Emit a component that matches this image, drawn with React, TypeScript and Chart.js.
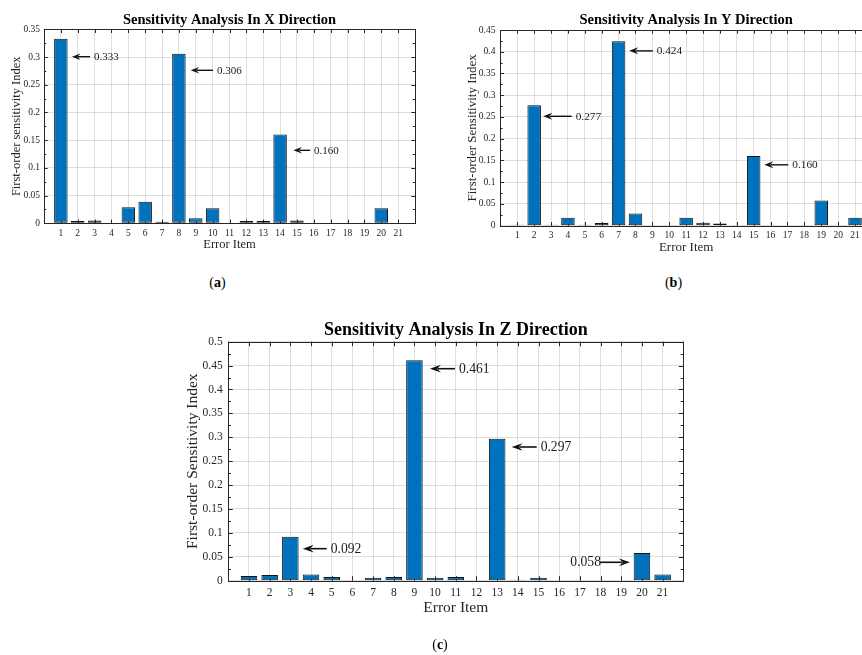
import React, { useEffect, useRef } from 'react';
import { Chart, registerables } from 'chart.js';

Chart.register(...registerables);

// ---------- data ----------
const errorItems = [1, 2, 3, 4, 5, 6, 7, 8, 9, 10, 11, 12, 13, 14, 15, 16, 17, 18, 19, 20, 21];
const sensX = [0.333, 0.004, 0.005, 0, 0.029, 0.039, 0.003, 0.306, 0.009, 0.027, 0, 0.004, 0.004, 0.16, 0.005, 0, 0, 0, 0.0015, 0.027, 0];
const sensY = [0.002, 0.277, 0.002, 0.018, 0.002, 0.006, 0.424, 0.028, 0, 0, 0.018, 0.007, 0.005, 0, 0.16, 0, 0, 0, 0.058, 0, 0.018];
const sensZ = [0.01, 0.012, 0.092, 0.013, 0.008, 0, 0.006, 0.008, 0.461, 0.006, 0.008, 0, 0.297, 0.002, 0.006, 0, 0, 0, 0, 0.058, 0.013];

const yMaxX = 0.35;
const yMaxY = 0.45;
const yMaxZ = 0.5;
const yStep = 0.05;
const xMin = 0;
const xMax = 22;

// annotations (data coordinates): arrow head x/y, arrow tail x, label
const annXHead = [1.66, 8.7, 14.79];
const annXHeadY = [0.3006, 0.276, 0.1317];
const annXTail = [2.73, 10.02, 15.78];
const annXText = ['0.333', '0.306', '0.160'];

const annYHead = [2.54, 7.63, 15.63];
const annYHeadY = [0.2516, 0.402, 0.14];
const annYTail = [4.22, 9.02, 17.05];
const annYText = ['0.277', '0.424', '0.160'];

const annZHead = [9.75, 13.7, 3.6, 19.42];
const annZHeadY = [0.4435, 0.2797, 0.067, 0.0385];
const annZTail = [10.96, 14.91, 4.76, 17.97];
const annZText = ['0.461', '0.297', '0.092', '0.058'];

const titles = [
  'Sensitivity Analysis In X Direction',
  'Sensitivity Analysis In Y Direction',
  'Sensitivity Analysis In Z Direction',
];
const yTitles = ['First-order sensitivity Index', 'First-order Sensitivity Index', 'First-order Sensitivity Index'];
const xTitle = 'Error Item';
const captions = ['a', 'b', 'c'];

// ---------- styles ----------
const FONT = "'Liberation Serif', 'Times New Roman', serif";
const BAR_FILL = '#0072BD';
const AXIS = '#262626';
const GRID = 'rgba(38,38,38,0.15)';

type Panel = {
  left: number; top: number; w: number; h: number;
  values: number[]; yMax: number; title: string; yTitle: string;
  ann: { hx: number[]; hy: number[]; tx: number[]; text: string[] };
  yAxisW: number; xAxisH: number; padRight: number;
  titleSize: number; titlePadT: number; titlePadB: number;
  tickSize: number; xTickPad: number; yTickPad: number;
  labelSize: number; yTitlePad: number; xTitlePad: number;
  annSize: number; headLen: number; headW: number; lineW: number; tickLen: number;
};

const panels: Panel[] = [
  {
    left: 0, top: 0, w: 430, h: 260,
    values: sensX, yMax: yMaxX, title: titles[0], yTitle: yTitles[0],
    ann: { hx: annXHead, hy: annXHeadY, tx: annXTail, text: annXText },
    yAxisW: 44, xAxisH: 36.7, padRight: 15,
    titleSize: 14.5, titlePadT: 11.3, titlePadB: 0.6,
    tickSize: 9.5, xTickPad: 4.3, yTickPad: 4,
    labelSize: 12.5, yTitlePad: 9.7, xTitlePad: 7.5,
    annSize: 11, headLen: 8.5, headW: 6.5, lineW: 1.4, tickLen: 3.7,
  },
  {
    left: 430, top: 0, w: 450, h: 260,
    values: sensY, yMax: yMaxY, title: titles[1], yTitle: yTitles[1],
    ann: { hx: annYHead, hy: annYHeadY, tx: annYTail, text: annYText },
    yAxisW: 70.4, xAxisH: 34.3, padRight: 8.1,
    titleSize: 14.5, titlePadT: 12, titlePadB: 0.6,
    tickSize: 9.5, xTickPad: 3.6, yTickPad: 5,
    labelSize: 13, yTitlePad: 34.7, xTitlePad: 4.2,
    annSize: 11.3, headLen: 9, headW: 7, lineW: 1.4, tickLen: 3.7,
  },
  {
    left: 170, top: 310, w: 530, h: 345,
    values: sensZ, yMax: yMaxZ, title: titles[2], yTitle: yTitles[2],
    ann: { hx: annZHead, hy: annZHeadY, tx: annZTail, text: annZText },
    yAxisW: 58.3, xAxisH: 74.3, padRight: 16.7,
    titleSize: 18, titlePadT: 9.2, titlePadB: 0.9,
    tickSize: 11.5, xTickPad: 5.7, yTickPad: 5.6,
    labelSize: 15.5, yTitlePad: 13.7, xTitlePad: 37.4,
    annSize: 13.6, headLen: 11, headW: 7.7, lineW: 1.6, tickLen: 4.5,
  },
];

const fmt = (v: number) => String(parseFloat(v.toFixed(3)));

// frame + inward ticks like MATLAB
const framePlugin = {
  id: 'matlabFrame',
  beforeDatasetsDraw(chart: any, _args: any, opts: any) {
    const { ctx, chartArea: a, scales } = chart;
    const x = scales.x, y = scales.y;
    const tl = opts.tickLen || 4;
    ctx.save();
    ctx.strokeStyle = AXIS;
    ctx.lineWidth = 1;
    ctx.beginPath();
    x.ticks.forEach((t: any) => {
      const px = Math.round(x.getPixelForValue(t.value)) + 0.5;
      ctx.moveTo(px, a.top); ctx.lineTo(px, a.top + tl);
      ctx.moveTo(px, a.bottom); ctx.lineTo(px, a.bottom - tl);
    });
    const yt = y.ticks.map((t: any) => t.value);
    yt.forEach((v: number, i: number) => {
      const py = Math.round(y.getPixelForValue(v)) + 0.5;
      ctx.moveTo(a.left, py); ctx.lineTo(a.left + tl, py);
      ctx.moveTo(a.right, py); ctx.lineTo(a.right - tl, py);
      if (i < yt.length - 1) {
        const pm = Math.round(y.getPixelForValue((v + yt[i + 1]) / 2)) + 0.5;
        ctx.moveTo(a.left, pm); ctx.lineTo(a.left + tl * 0.6, pm);
        ctx.moveTo(a.right, pm); ctx.lineTo(a.right - tl * 0.6, pm);
      }
    });
    ctx.stroke();
    ctx.restore();
  },
  afterDatasetsDraw(chart: any) {
    const { ctx, chartArea: a } = chart;
    ctx.save();
    ctx.strokeStyle = AXIS;
    ctx.lineWidth = 1;
    ctx.strokeRect(Math.round(a.left) + 0.5, Math.round(a.top) + 0.5, Math.round(a.right - a.left), Math.round(a.bottom - a.top));
    ctx.restore();
  },
};

const arrowPlugin = {
  id: 'arrowNotes',
  afterDraw(chart: any, _args: any, opts: any) {
    const { ctx, scales } = chart;
    const x = scales.x, y = scales.y;
    const items = opts.items || [];
    ctx.save();
    ctx.fillStyle = '#111';
    ctx.strokeStyle = '#111';
    ctx.lineWidth = opts.lineW;
    ctx.font = `${opts.size}px ${FONT}`;
    ctx.textBaseline = 'middle';
    items.forEach((it: any) => {
      const hx = x.getPixelForValue(it.hx);
      const hy = y.getPixelForValue(it.hy);
      const tx = x.getPixelForValue(it.tx);
      const dir = tx > hx ? 1 : -1;
      const L = opts.headLen, W = opts.headW;
      ctx.beginPath();
      ctx.moveTo(tx, hy);
      ctx.lineTo(hx + dir * L * 0.7, hy);
      ctx.stroke();
      ctx.beginPath();
      ctx.moveTo(hx, hy);
      ctx.lineTo(hx + dir * L, hy - W / 2);
      ctx.lineTo(hx + dir * L * 0.65, hy);
      ctx.lineTo(hx + dir * L, hy + W / 2);
      ctx.closePath();
      ctx.fill();
      ctx.fillStyle = '#1a1a1a';
      if (dir > 0) {
        ctx.textAlign = 'left';
        ctx.fillText(it.text, tx + 4, hy + 0.5);
      } else {
        ctx.textAlign = 'right';
        ctx.fillText(it.text, tx + 1, hy + 0.5);
      }
      ctx.fillStyle = '#111';
    });
    ctx.restore();
  },
};

function buildConfig(p: Panel): any {
  const items = p.ann.hx.map((hx, i) => ({ hx, hy: p.ann.hy[i], tx: p.ann.tx[i], text: p.ann.text[i] }));
  return {
    type: 'bar',
    data: {
      datasets: [
        {
          data: errorItems.map((e, i) => ({ x: e, y: p.values[i] })),
          backgroundColor: BAR_FILL,
          borderColor: '#141414',
          borderWidth: 1,
          borderSkipped: false,
          barPercentage: 0.8,
          categoryPercentage: 1,
        },
      ],
    },
    plugins: [framePlugin, arrowPlugin],
    options: {
      responsive: false,
      animation: false,
      devicePixelRatio: 1,
      layout: { padding: { top: 0, left: 0, right: p.padRight, bottom: 0 } },
      plugins: {
        legend: { display: false },
        tooltip: { enabled: false },
        title: {
          display: true,
          text: p.title,
          fullSize: false,
          color: '#000',
          font: { family: FONT, size: p.titleSize, weight: 'bold', lineHeight: 1.2 },
          padding: { top: p.titlePadT, bottom: p.titlePadB },
        },
        matlabFrame: { tickLen: p.tickLen },
        arrowNotes: { items, size: p.annSize, headLen: p.headLen, headW: p.headW, lineW: p.lineW },
      },
      scales: {
        x: {
          type: 'linear',
          min: xMin,
          max: xMax,
          offset: false,
          afterFit: (s: any) => { s.height = p.xAxisH; },
          grid: { color: GRID, drawTicks: false, offset: false, lineWidth: 1 },
          border: { display: false },
          ticks: {
            stepSize: 1,
            autoSkip: false,
            maxRotation: 0,
            minRotation: 0,
            padding: p.xTickPad,
            color: AXIS,
            font: { family: FONT, size: p.tickSize, lineHeight: 1.2 },
            callback: (v: number) => (v >= errorItems[0] && v <= errorItems[errorItems.length - 1] ? String(v) : ''),
          },
          title: {
            display: true,
            text: xTitle,
            color: AXIS,
            font: { family: FONT, size: p.labelSize, lineHeight: 1.2 },
            padding: { top: 0, bottom: p.xTitlePad },
          },
        },
        y: {
          type: 'linear',
          min: 0,
          max: p.yMax,
          afterFit: (s: any) => { s.width = p.yAxisW; },
          grid: { color: GRID, drawTicks: false, lineWidth: 1 },
          border: { display: false },
          ticks: {
            stepSize: yStep,
            padding: p.yTickPad,
            color: AXIS,
            font: { family: FONT, size: p.tickSize, lineHeight: 1.2 },
            callback: (v: number) => fmt(v),
          },
          title: {
            display: true,
            text: p.yTitle,
            color: AXIS,
            font: { family: FONT, size: p.labelSize, lineHeight: 1.2 },
            padding: { top: p.yTitlePad, bottom: 0 },
          },
        },
      },
    },
  };
}

function PanelChart({ p }: { p: Panel }) {
  const ref = useRef<HTMLCanvasElement>(null);
  useEffect(() => {
    const chart = new Chart(ref.current as HTMLCanvasElement, buildConfig(p));
    return () => chart.destroy();
  }, [p]);
  return (
    <canvas
      ref={ref}
      width={p.w}
      height={p.h}
      style={{ position: 'absolute', left: p.left, top: p.top, width: p.w, height: p.h }}
    />
  );
}

const captionPos = [
  { x: 217.5, y: 283 },
  { x: 673.5, y: 283 },
  { x: 440, y: 645 },
];

export default function App() {
  return (
    <div
      style={{
        position: 'absolute', left: 0, top: 0, width: 862, height: 655,
        overflow: 'hidden', background: '#fff',
      }}
    >
      {panels.map((p, i) => (
        <PanelChart key={i} p={p} />
      ))}
      {captions.map((c, i) => (
        <div
          key={c}
          style={{
            position: 'absolute', left: captionPos[i].x, top: captionPos[i].y,
            transform: 'translate(-50%, -50%)', fontFamily: FONT, fontSize: 14,
            color: '#000', lineHeight: 1, whiteSpace: 'nowrap',
          }}
        >
          (<b>{c}</b>)
        </div>
      ))}
    </div>
  );
}
